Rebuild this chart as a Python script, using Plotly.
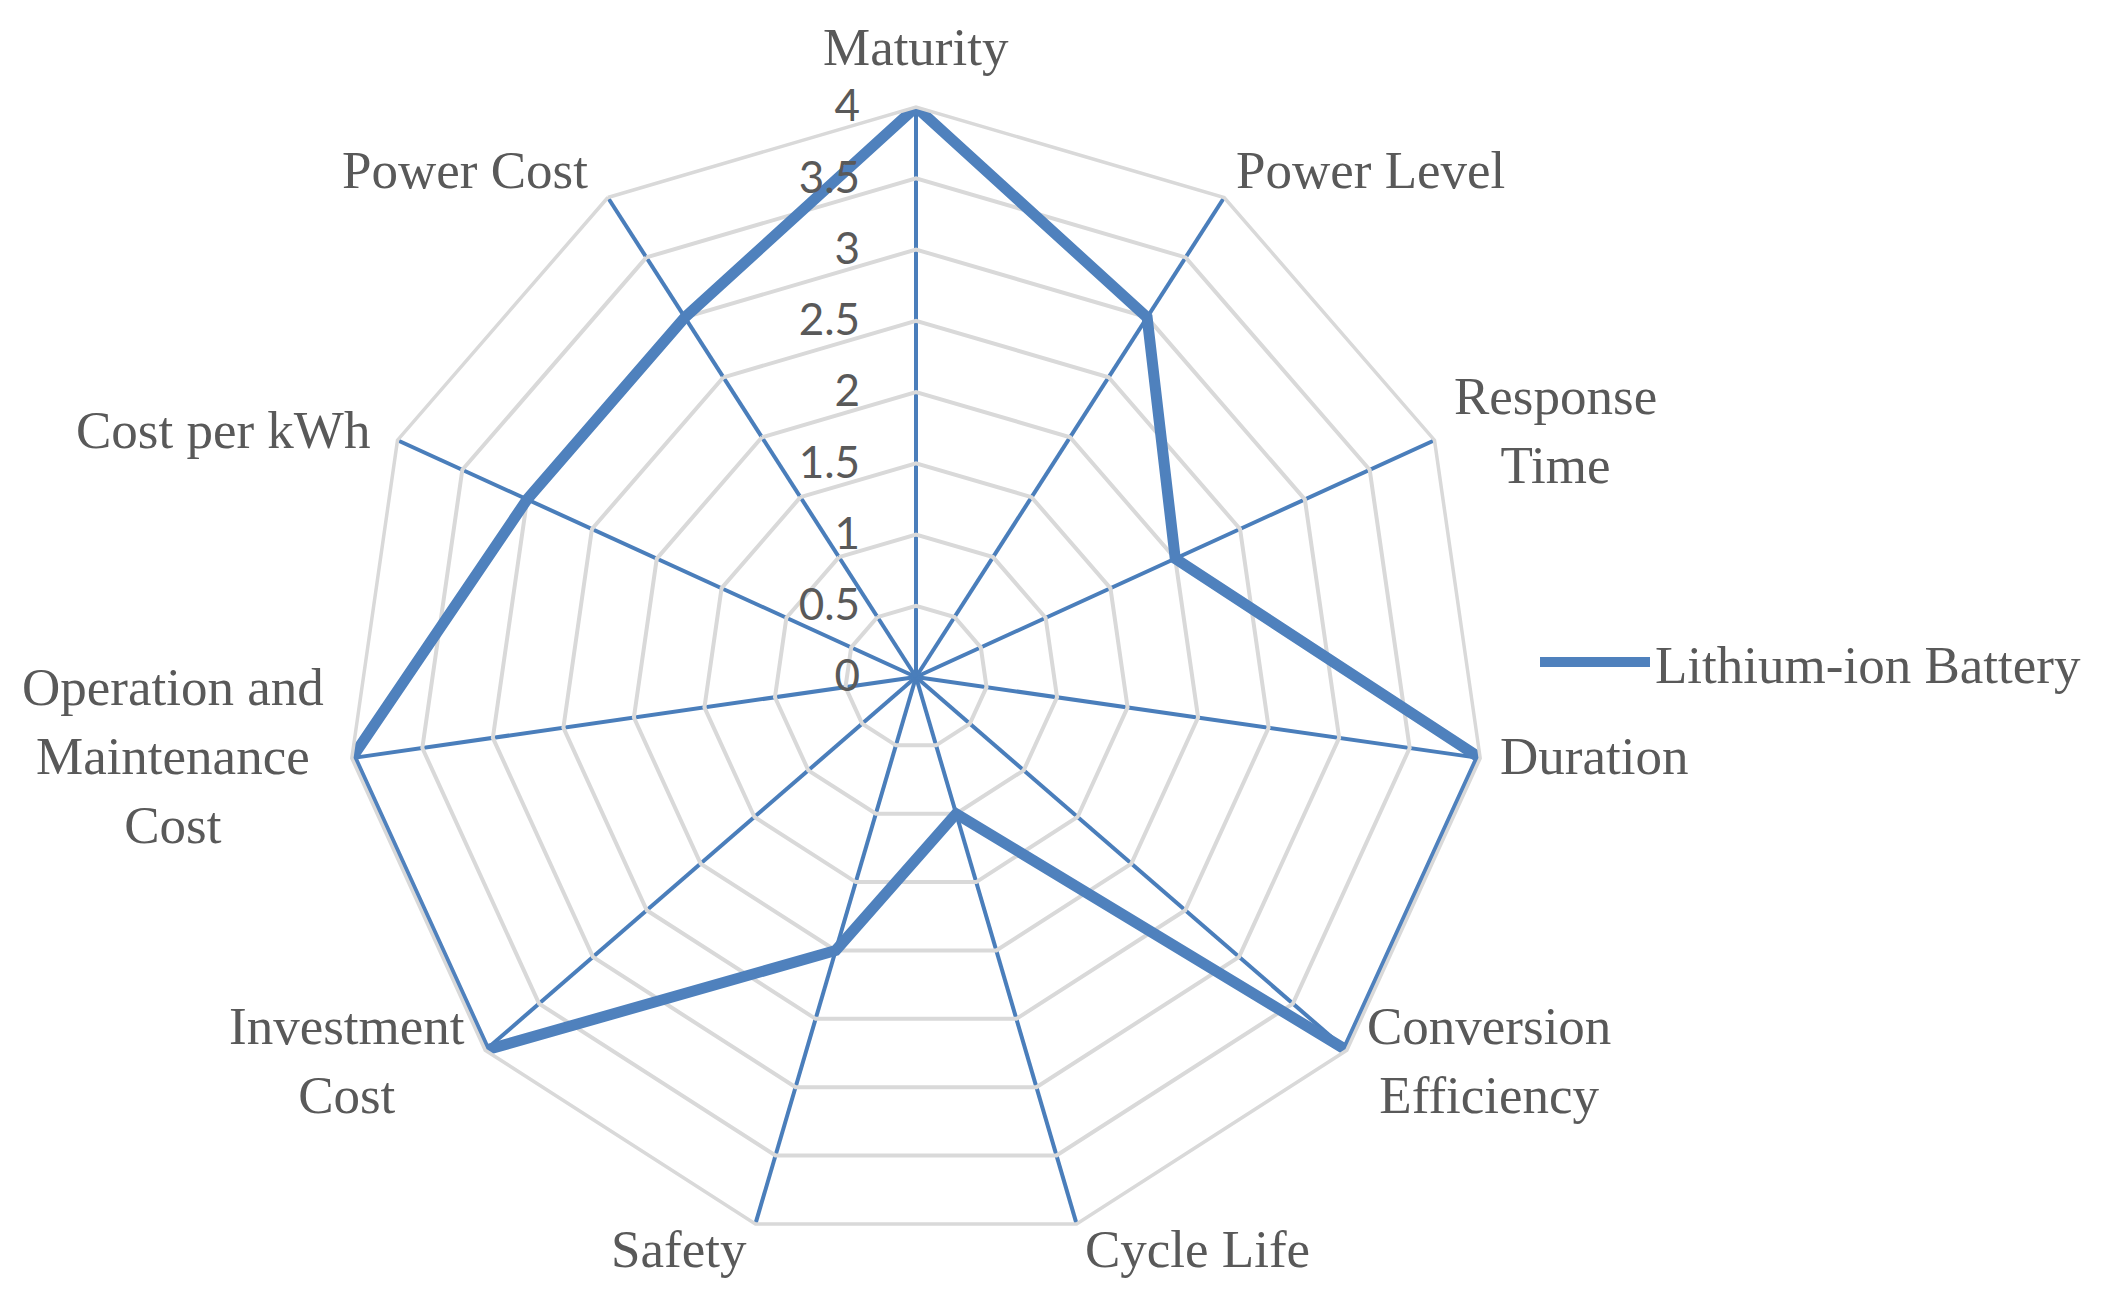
import math
import plotly.graph_objects as go

categories = ["Maturity", "Power Level", "Response Time", "Duration",
              "Conversion Efficiency", "Cycle Life", "Safety",
              "Investment Cost", "Operation and Maintenance Cost",
              "Cost per kWh", "Power Cost"]
category_labels = ["Maturity", "Power Level", "Response<br>Time", "Duration",
                   "Conversion<br>Efficiency", "Cycle Life", "Safety",
                   "Investment<br>Cost", "Operation and<br>Maintenance<br>Cost",
                   "Cost per kWh", "Power Cost"]
li_ion_values = [4, 3, 2, 4, 4, 1, 2, 4, 4, 3, 3]
series_name = "Lithium-ion Battery"
radial_ticks = [0, 0.5, 1, 1.5, 2, 2.5, 3, 3.5, 4]
radial_ticktext = ["0", "0.5", "1", "1.5", "2", "2.5", "3", "3.5", "4"]

W, H = 2106, 1300
# polar centre / radius in paper pixels
cx, cy, R = 908, 669, 570

BLUE = "#4f81bd"
GREY = "#d9d9d9"
TXT = "#595959"
SERIF = "Liberation Serif"

fig = go.Figure()
fig.add_trace(go.Scatterpolar(
    r=li_ion_values + li_ion_values[:1],
    theta=categories + categories[:1],
    mode="lines",
    name=series_name,
    line=dict(color=BLUE, width=11),
))

# category labels placed next to the outer polygon vertices
annotations = []
n = len(categories)
for i, lab in enumerate(category_labels):
    a = 2 * math.pi * i / n
    s, c = math.sin(a), math.cos(a)
    vx = cx + R * s
    vy = cy - R * c
    if abs(s) < 1e-6:
        xanchor, xshift = "center", 0
    elif s > 0:
        xanchor = "left"
        xshift = 10 if c > 0.7 else (6 if c < -0.9 else 18)
    else:
        xanchor = "right"
        if c > 0.7:
            xshift = -18
        elif c < -0.9:
            xshift = -6
        elif c < -0.5:
            xshift = -18
        else:
            xshift = -26
    if c > 0.99:
        yanchor, yshift = "bottom", 29
    elif c > 0.7:
        yanchor, yshift = "bottom", -4
    elif c < -0.9:
        yanchor, yshift = "top", 6
    elif c < -0.5:
        yanchor, yshift = "middle", -10
    elif c > 0.3:
        yanchor, yshift = "middle", 10
    else:
        yanchor, yshift = "middle", 2
    annotations.append(dict(
        x=vx / W, y=1 - vy / H, xref="paper", yref="paper",
        text=lab, showarrow=False, align="center",
        xanchor=xanchor, yanchor=yanchor, xshift=xshift, yshift=yshift,
        font=dict(family=SERIF, size=53, color=TXT),
    ))

fig.update_layout(
    width=W, height=H,
    margin=dict(l=0, r=0, t=0, b=0, autoexpand=False),
    paper_bgcolor="white",
    plot_bgcolor="white",
    font=dict(family=SERIF, size=53, color=TXT),
    showlegend=True,
    legend=dict(x=1527 / W, y=1 - 654 / H, xanchor="left", yanchor="middle",
                itemwidth=110,
                font=dict(family=SERIF, size=53, color=TXT),
                bgcolor="rgba(0,0,0,0)"),
    annotations=annotations,
    polar=dict(
        domain=dict(x=[(cx - R) / W, (cx + R) / W], y=[1 - (cy + R) / H, 1 - (cy - R) / H]),
        bgcolor="white",
        gridshape="linear",
        angularaxis=dict(
            direction="clockwise",
            rotation=90,
            showgrid=True,
            gridcolor="#4a7ebb",
            gridwidth=3.5,
            showline=True,
            linecolor=GREY,
            linewidth=3.5,
            ticks="",
            showticklabels=False,
        ),
        radialaxis=dict(
            range=[0, 4],
            angle=90,
            tickangle=90,
            side="counterclockwise",
            tickvals=radial_ticks,
            ticktext=radial_ticktext,
            showline=False,
            showgrid=True,
            gridcolor=GREY,
            gridwidth=3.5,
            ticks="outside",
            ticklen=40,
            tickcolor="rgba(0,0,0,0)",
            tickfont=dict(family="Lato", size=44, color=TXT),
        ),
    ),
)

fig.write_html("out.html")
